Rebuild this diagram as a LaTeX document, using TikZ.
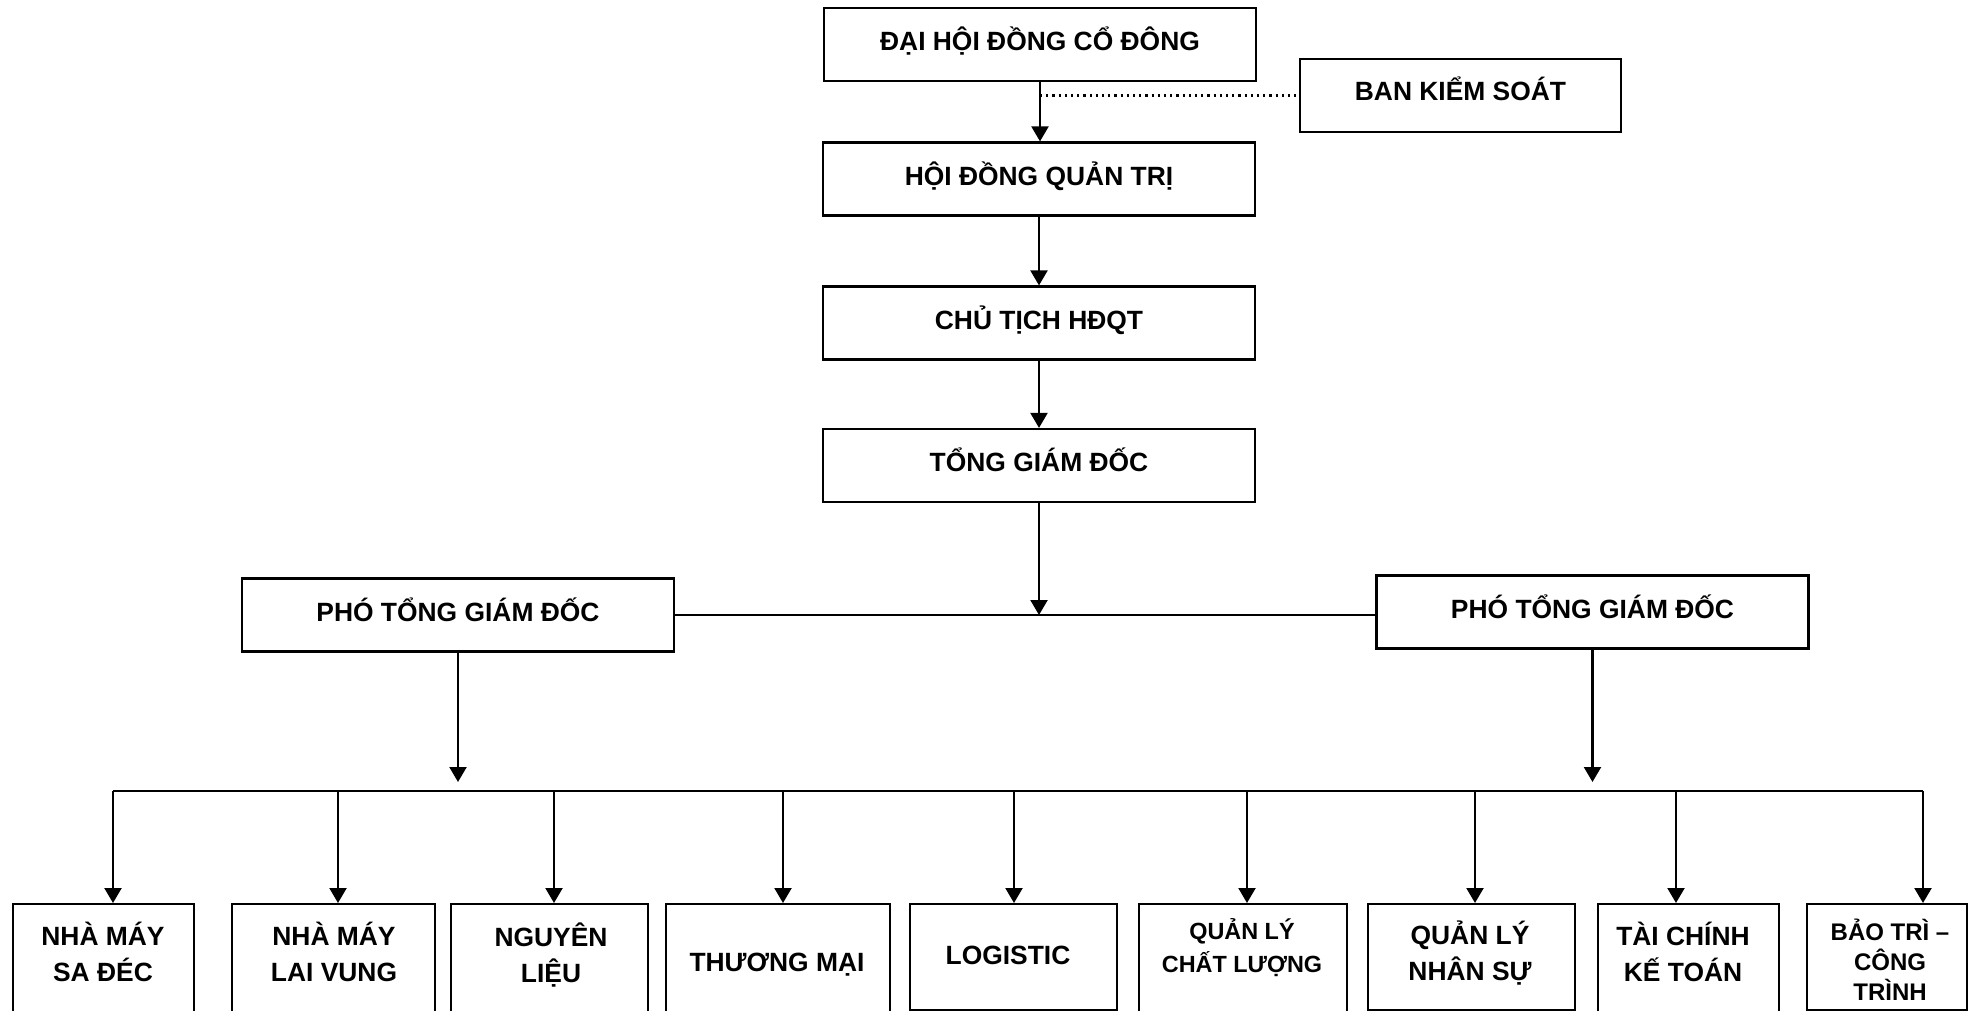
\documentclass[tikz,border=0pt]{standalone}
\usepackage{fontspec}
\setmainfont{Liberation Sans}
\usetikzlibrary{arrows.meta}

\begin{document}
\begin{tikzpicture}[x=0.5pt, y=-0.5pt, line width=1.1pt,
	orgbox/.style={draw, rectangle, inner sep=0pt, minimum width=216pt, minimum height=36.5pt, text height=9.5pt, text depth=3pt, font=\bfseries\fontsize{13.2pt}{18pt}\selectfont},
	unitbox/.style={draw, rectangle, inner sep=0pt, anchor=north},
	unittext/.style={align=center, inner sep=0pt, font=\bfseries\fontsize{13.2pt}{18pt}\selectfont},
	arr/.style={-{Triangle[length=7.5pt, width=8.5pt]}}]
	    \useasboundingbox (0,0) rectangle (1978,1011);
	    \clip (0,0) rectangle (1978,1011);
	    
	    \node [orgbox] (DH) at (1040,44.5) {ĐẠI HỘI ĐỒNG CỔ ĐÔNG};
	    \node [orgbox, minimum width=160.5pt, text depth=4pt] (BK) at (1460.5,95.5) {BAN KIỂM SOÁT};
	    \node [orgbox] (HD) at (1039,179) {HỘI ĐỒNG QUẢN TRỊ};
	    \node [orgbox] (CT) at (1039,323) {CHỦ TỊCH HĐQT};
	    \node [orgbox, text depth=4pt] (TG) at (1039,465.5) {TỔNG GIÁM ĐỐC};
	    
	    \node [orgbox] (P1) at (458,615) {PHÓ TỔNG GIÁM ĐỐC};
	    \node [orgbox] (P2) at (1592.5,612) {PHÓ TỔNG GIÁM ĐỐC};
	    
	    \node [unitbox, minimum width=90.5pt, minimum height=68.5pt] (N1) at (103.5,903) {};
	    \node [unitbox, minimum width=101.5pt, minimum height=68.5pt] (N2) at (333.5,903) {};
	    \node [unitbox, minimum width=98.5pt, minimum height=68.5pt] (N3) at (549.5,903) {};
	    \node [unitbox, minimum width=112pt, minimum height=68.5pt] (N4) at (778,903) {};
	    \node [unitbox, minimum width=103.5pt, minimum height=53pt] (N5) at (1013.5,903) {};
	    \node [unitbox, minimum width=104pt, minimum height=68.5pt] (N6) at (1243,903) {};
	    \node [unitbox, minimum width=103.5pt, minimum height=53pt] (N7) at (1471.5,903) {};
	    \node [unitbox, minimum width=90.5pt, minimum height=68.5pt] (N8) at (1688.5,903) {};
	    \node [unitbox, minimum width=80pt, minimum height=53pt] (N9) at (1887,903) {};
	    
	    \node [unittext] (T1) at (103,952) {NHÀ MÁY\\SA ĐÉC};
	    \node [unittext] (T2) at (334,952) {NHÀ MÁY\\LAI VUNG};
	    \node [unittext] (T3) at (551,955) {NGUYÊN\\LIỆU};
	    \node [unittext] (T4) at (777,965) {THƯƠNG MẠI};
	    \node [unittext] (T5) at (1008,955) {LOGISTIC};
	    \node [unittext, font=\bfseries\fontsize{11.7pt}{16.5pt}\selectfont] (T6) at (1242,948) {QUẢN LÝ\\CHẤT LƯỢNG};
	    \node [unittext] (T7) at (1470,953) {QUẢN LÝ\\NHÂN SỰ};
	    \node [unittext] (T8) at (1683,952) {TÀI CHÍNH\\KẾ TOÁN};
	    \node [unittext, font=\bfseries\fontsize{12pt}{15pt}\selectfont] (T9) at (1890,960) {BẢO TRÌ –\\CÔNG\\TRÌNH};
	    
	    \coordinate (J) at (TG.south |- P1.east);
	    \coordinate (L) at (458,782);
	    \coordinate (D1) at (113,791);
	    \coordinate (D2) at (338,791);
	    \coordinate (D3) at (554,791);
	    \coordinate (D4) at (783,791);
	    \coordinate (D5) at (1014,791);
	    \coordinate (D6) at (1247,791);
	    \coordinate (D7) at (1475,791);
	    \coordinate (D8) at (1676,791);
	    \coordinate (D9) at (1923,791);
	    
		\draw [arr] (DH.south) -- (DH.south |- HD.north);
		\draw [dotted] (DH.south |- BK.west) -- (BK.west);
		\draw [arr] (HD) -- (CT);
		\draw [arr] (CT) -- (TG);
		\draw [arr] (TG) -- (J);
		\draw (P1.east) -- (P2.west |- P1.east);
		\draw [arr] (P1) -- (L);
		\draw [arr] (P2) -- (P2.south |- L);
		
		\draw (D1) -- (D9);
		\draw [arr] (D1) -- (D1 |- N1.north);
		\draw [arr] (D2) -- (D2 |- N2.north);
		\draw [arr] (D3) -- (D3 |- N3.north);
		\draw [arr] (D4) -- (D4 |- N4.north);
		\draw [arr] (D5) -- (D5 |- N5.north);
		\draw [arr] (D6) -- (D6 |- N6.north);
		\draw [arr] (D7) -- (D7 |- N7.north);
		\draw [arr] (D8) -- (D8 |- N8.north);
		\draw [arr] (D9) -- (D9 |- N9.north);
		
	\end{tikzpicture}
\end{document}
